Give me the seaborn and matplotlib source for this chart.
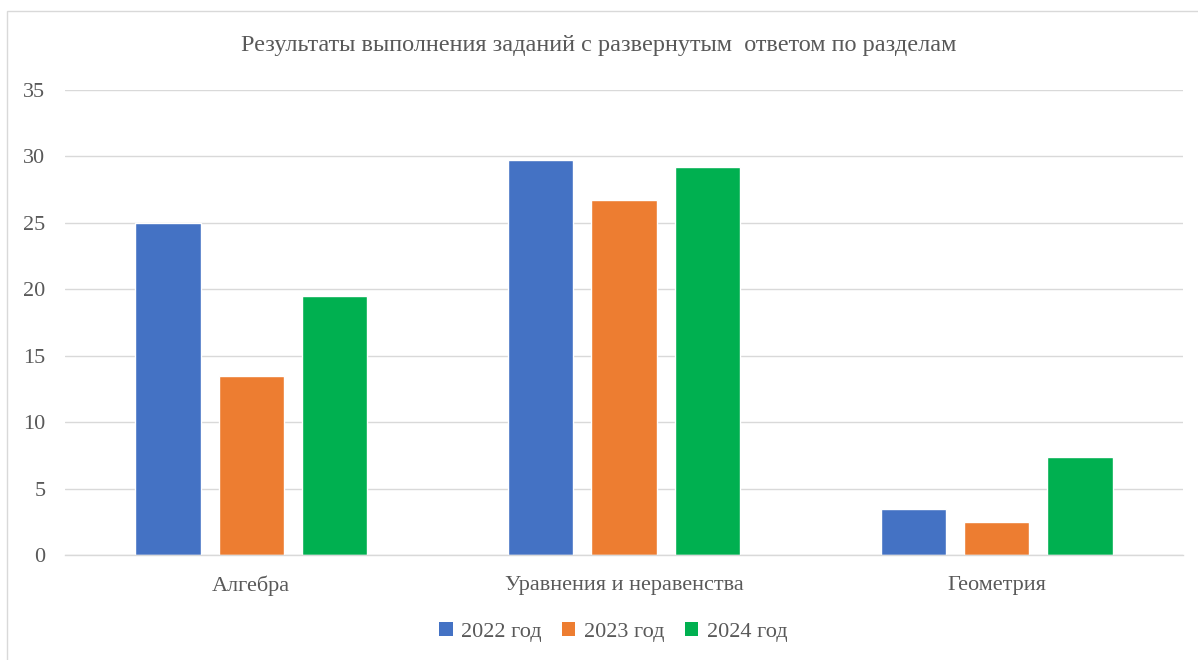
import matplotlib
matplotlib.use("Agg")
import matplotlib.pyplot as plt
import seaborn as sns
import pandas as pd
from matplotlib.patches import Patch, Rectangle
from matplotlib.font_manager import FontProperties

categories = ["Алгебра", "Уравнения и неравенства", "Геометрия"]
series_names = ["2022 год", "2023 год", "2024 год"]
values_2022 = [25.0, 29.7, 3.5]
values_2023 = [13.5, 26.7, 2.5]
values_2024 = [19.5, 29.2, 7.4]
colors = ["#4472C4", "#ED7D31", "#00B050"]
title = "Результаты выполнения заданий с развернутым  ответом по разделам"

rows = []
for name, vals in zip(series_names, [values_2022, values_2023, values_2024]):
    for c, v in zip(categories, vals):
        rows.append({"cat": c, "series": name, "value": v})
df = pd.DataFrame(rows)

sns.set_theme(style="white")
plt.rcParams['font.family'] = ['Liberation Serif', 'DejaVu Serif']
text_color = "#595959"

fig = plt.figure(figsize=(11.98, 6.6), dpi=100)
ax = fig.add_axes([65/1198, 1-555/660, (1183-65)/1198, (555-90)/660])

sns.barplot(data=df, x="cat", y="value", hue="series", order=categories,
            hue_order=series_names, palette=colors, width=0.67, gap=0.215,
            saturation=1, ax=ax, legend=False)

ax.set_xlim(-0.5, 2.5)
ax.set_ylim(0, 35)
ax.set_yticks(range(0, 36, 5))
ax.yaxis.grid(True, color="#d9d9d9", linewidth=1)
ax.set_axisbelow(True)
for s in ["top", "right", "left"]:
    ax.spines[s].set_visible(False)
ax.spines["bottom"].set_color("#d9d9d9")
ax.spines["bottom"].set_linewidth(1)
ax.tick_params(axis="both", length=0, colors=text_color, labelsize=16)
ax.tick_params(axis="y", pad=14)
ax.tick_params(axis="x", pad=15)
ax.set_xlabel("")
ax.set_ylabel("")

fig.text(0.5, 1-45/660, title, ha="center", va="center", fontsize=17.5, color=text_color)

handles = [Patch(facecolor=c, edgecolor="none") for c in colors]
fp = FontProperties(family=['Liberation Serif', 'DejaVu Serif'], size=16)
fig.legend(handles, series_names, loc="center", bbox_to_anchor=(0.512, 1-632/660),
           ncol=3, frameon=False, prop=fp, labelcolor=text_color,
           handlelength=0.6, handleheight=0.6, handletextpad=0.4, columnspacing=0.9)

fig.patches.append(Rectangle((7/1198, -0.1), 1.2, 1.1 - 11/660,
                             transform=fig.transFigure, fill=False,
                             edgecolor="#d9d9d9", linewidth=1))

fig.savefig("out.png", dpi=100, facecolor="white")
